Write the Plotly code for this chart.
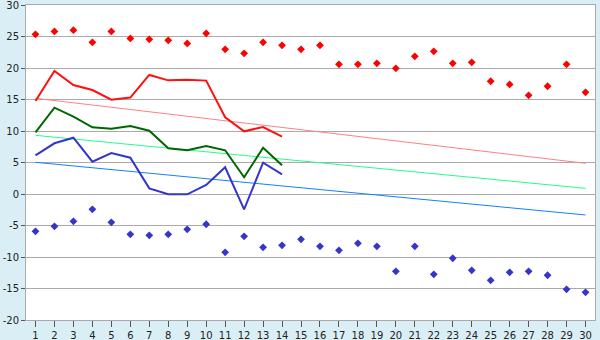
import plotly.graph_objects as go

categories = list(range(1, 31))

red_points = [25.35, 25.8, 26.0, 24.07, 25.8, 24.7, 24.55, 24.4, 23.9, 25.5,
              22.97, 22.33, 24.07, 23.6, 22.97, 23.6, 20.58, 20.58, 20.74, 19.95,
              21.85, 22.65, 20.74, 20.9, 17.9, 17.4, 15.66, 17.1, 20.58, 16.14]
blue_points = [-5.93, -5.13, -4.34, -2.43, -4.5, -6.4, -6.56, -6.4, -5.6, -4.8,
               -9.25, -6.72, -8.46, -8.14, -7.19, -8.3, -8.94, -7.83, -8.3, -12.27,
               -8.3, -12.75, -10.2, -12.11, -13.7, -12.43, -12.27, -12.9, -15.13, -15.6]

line_days = list(range(1, 15))
red_line = [14.76, 19.52, 17.3, 16.5, 14.97, 15.3, 18.9, 18.04, 18.15, 18.0,
            12.17, 9.95, 10.63, 9.1]
green_line = [9.79, 13.7, 12.27, 10.59, 10.37, 10.79, 10.05, 7.25, 6.94, 7.62,
              6.94, 2.65, 7.35, 4.55]
blue_line = [6.14, 8.05, 8.94, 5.13, 6.51, 5.76, 0.9, -0.05, -0.05, 1.43,
             4.24, -2.43, 4.97, 3.13]

trend_days = [1, 30]
pink_trend = [15.19, 4.87]
green_trend = [9.31, 0.9]
blue_trend = [5.03, -3.33]

y_ticks = [-20, -15, -10, -5, 0, 5, 10, 15, 20, 25, 30]
y_tick_labels = ["-20", "-15", "-10", "-5", "0", "5", "10", "15", "20", "25", "30"]

fig = go.Figure()

fig.add_trace(go.Scatter(x=trend_days, y=pink_trend, mode="lines",
                         line=dict(color="#FF8080", width=1)))
fig.add_trace(go.Scatter(x=trend_days, y=green_trend, mode="lines",
                         line=dict(color="#22FF88", width=1)))
fig.add_trace(go.Scatter(x=trend_days, y=blue_trend, mode="lines",
                         line=dict(color="#1180FF", width=1)))

fig.add_trace(go.Scatter(x=line_days, y=red_line, mode="lines",
                         line=dict(color="#FF1010", width=2)))
fig.add_trace(go.Scatter(x=line_days, y=green_line, mode="lines",
                         line=dict(color="#006600", width=2)))
fig.add_trace(go.Scatter(x=line_days, y=blue_line, mode="lines",
                         line=dict(color="#3535CC", width=2)))

fig.add_trace(go.Scatter(x=categories, y=red_points, mode="markers",
                         marker=dict(color="#FF0000", symbol="diamond", size=6)))
fig.add_trace(go.Scatter(x=categories, y=blue_points, mode="markers",
                         marker=dict(color="#3535CC", symbol="diamond", size=6)))

fig.update_layout(
    width=600, height=340,
    margin=dict(l=26, r=5, t=5, b=20, autoexpand=False),
    paper_bgcolor="#DAEFF5",
    plot_bgcolor="#FFFFFF",
    showlegend=False,
    font=dict(family="DejaVu Sans", size=10, color="#222222"),
)
fig.update_xaxes(
    range=[0.5, 30.5], tickmode="array", tickvals=categories,
    ticktext=[str(c) for c in categories],
    showgrid=False, zeroline=False, automargin=False, ticklabeloverflow="allow",
    showline=True, linecolor="#AAAAAA", linewidth=1, mirror=True,
    ticks="outside", ticklen=6, tickcolor="#555555", tickwidth=1,
)
fig.update_yaxes(
    range=[-20, 30], tickmode="array", tickvals=y_ticks, ticktext=y_tick_labels,
    showgrid=True, gridcolor="#AAAAAA", gridwidth=1, zeroline=False,
    automargin=False, ticklabeloverflow="allow",
    showline=True, linecolor="#AAAAAA", linewidth=1, mirror=True,
    ticks="outside", ticklen=4, tickcolor="#555555", tickwidth=1,
)

fig.write_html("out.html")
